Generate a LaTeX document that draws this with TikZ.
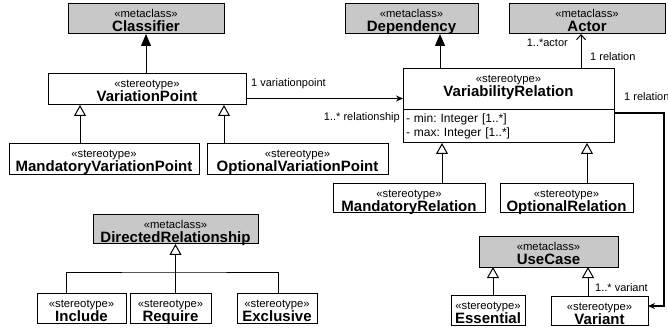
\documentclass[tikz,border=0pt]{standalone}
\usepackage{fontspec}
\setmainfont{Liberation Sans}
\usetikzlibrary{arrows.meta}
\frenchspacing

\definecolor{metagray}{RGB}{200,200,200}

\newcommand\stfont{\fontsize{11.3}{11}\selectfont}
\newcommand\nmfont{\fontsize{15}{15}\selectfont\bfseries}
\newcommand\lblfont{\fontsize{11}{11}\selectfont}
% stereotype line over a bold class name; #1 = space below the name baseline
\newcommand\umltext[3][2pt]{\vbox{\baselineskip=14pt\lineskiplimit=-40pt\lineskip=0pt
  \halign{\hfil##\hfil\cr
    \vrule height 14pt depth 0pt width 0pt{\stfont «#2»}\cr
    \vrule height 0pt depth #1 width 0pt\smash{\nmfont #3}\cr}}}

\tikzset{
  x=1pt, y=-1pt,
  umlbox/.style={draw, line width=1pt, fill=white, inner sep=0pt, outer sep=0pt,
    minimum width=#1},
  meta/.style={umlbox=#1, fill=metagray},
  conn/.style={line width=1pt},
  inh/.style={conn, -{Triangle[length=12pt, width=10pt]}},
  gen/.style={conn, -{Triangle[open, length=11pt, width=12pt]}},
  assoc/.style={conn, -{Stealth[length=7pt, width=6pt]}},
  nav/.style={conn, -{Straight Barb[length=5pt, width=9pt]}},
  lbl/.style={font=\lblfont, inner sep=0pt},
}

\begin{document}
\begin{tikzpicture}
\useasboundingbox (0,0) rectangle (668,328);

% metaclasses
\node[meta=156pt, minimum height=30pt] (cls) at (146,19) {\umltext{metaclass}{Classifier}};
\node[meta=133pt, minimum height=30pt] (dep) at (411.5,19) {\umltext{metaclass}{Dependency}};
\node[meta=156pt, minimum height=30pt] (actor) at (587,19) {\umltext{metaclass}{Actor}};
\node[meta=165pt, minimum height=29pt] (dr) at (175.5,229.5) {\umltext[1pt]{metaclass}{DirectedRelationship}};
\node[meta=139pt, minimum height=30pt] (uc) at (548.5,252) {\umltext{metaclass}{UseCase}};

% variation points
\node[umlbox=198pt, minimum height=31pt] (vp) at (147,89.5) {\umltext[3pt]{stereotype}{VariationPoint}};
\node[umlbox=190pt, minimum height=31pt] (mvp) at (104,159.5) {\umltext[3pt]{stereotype}{MandatoryVariationPoint}};
\node[umlbox=181pt, minimum height=31pt] (ovp) at (297.5,159.5) {\umltext[3pt]{stereotype}{OptionalVariationPoint}};

% variability relation with its attribute compartment
\node[umlbox=211pt, minimum height=41pt] (vr) at (508.5,89.5) {\umltext[13pt]{stereotype}{VariabilityRelation}};
\node[umlbox=211pt, minimum height=33pt, text width=205pt, align=left,
  font=\fontsize{12}{14}\selectfont] (vrattr) at (508.5,126.5)
  {- min: Integer [1..*]\\- max: Integer [1..*]};

\node[umlbox=152pt, minimum height=29pt] (mr) at (409,198.5) {\umltext[1pt]{stereotype}{MandatoryRelation}};
\node[umlbox=133pt, minimum height=29pt] (or) at (566.5,198.5) {\umltext[1pt]{stereotype}{OptionalRelation}};

% dependency kinds
\node[umlbox=89pt, minimum height=30pt] (inc) at (81.5,308) {\umltext{stereotype}{Include}};
\node[umlbox=81pt, minimum height=30pt] (req) at (170.5,308) {\umltext{stereotype}{Require}};
\node[umlbox=80pt, minimum height=30pt] (exc) at (277,308) {\umltext{stereotype}{Exclusive}};

% use case kinds
\node[umlbox=74pt, minimum height=30pt] (ess) at (488,310) {\umltext{stereotype}{Essential}};
\node[umlbox=97pt, minimum height=29pt] (var) at (599.5,310.5) {\umltext[1pt]{stereotype}{Variant}};

% extensions of metaclasses
\draw[inh] (vp.north -| cls.south) -- (cls.south);
\coordinate (d1) at ([xshift=-68.5pt]vr.north);
\draw[inh] (d1) -- (d1 |- dep.south);

% generalizations
\coordinate (g1) at ([xshift=-67pt]vp.south);
\coordinate (g2) at ([xshift=77pt]vp.south);
\draw[gen] (g1 |- mvp.north) -- (g1);
\draw[gen] (g2 |- ovp.north) -- (g2);
\coordinate (g3) at ([xshift=-66.5pt]vrattr.south);
\coordinate (g4) at ([xshift=78.5pt]vrattr.south);
\draw[gen] (g3 |- mr.north) -- (g3);
\draw[gen] (g4 |- or.north) -- (g4);
\coordinate (g5) at ([xshift=-55.5pt]uc.south);
\coordinate (g6) at ([xshift=39.5pt]uc.south);
\draw[gen] (g5 |- ess.north) -- (g5);
\draw[gen] (g6 |- var.north) -- (g6);

% directed relationship tree
\coordinate (bar) at (176,272);
\coordinate (incx) at ([xshift=-15.5pt]inc.north);
\coordinate (excx) at ([xshift=1pt]exc.north);
\draw[gen] (req.north -| dr.south) -- (dr.south);
\draw[conn] (incx) |- (bar) -| (excx);

% associations
\draw[assoc] ([yshift=-9pt]vp.east) -- ([yshift=-9pt]vr.west);
\node[lbl, anchor=west] (l1) at (251,84) {1 variationpoint};
\node[lbl, anchor=east] (l2) at (400,118) {1..* relationship};

\coordinate (a1) at ([xshift=72.5pt]vr.north);
\draw[nav] (a1) -- (a1 |- actor.south);
\node[lbl, anchor=east] (l3) at (568,43) {1..*actor};
\node[lbl, anchor=west] (l4) at (590,57) {1 relation};

\coordinate (turn) at (664,306);
\draw[line width=1.8pt, -{Stealth[length=7pt, width=6pt]}]
  ([yshift=13.5pt]vrattr.east) -| (turn) -- ([yshift=4.5pt]var.east);
\node[lbl, anchor=west] (l5) at (624,97) {1 relation};
\node[lbl, anchor=west] (l6) at (595,288) {1..* variant};
\end{tikzpicture}
\end{document}
